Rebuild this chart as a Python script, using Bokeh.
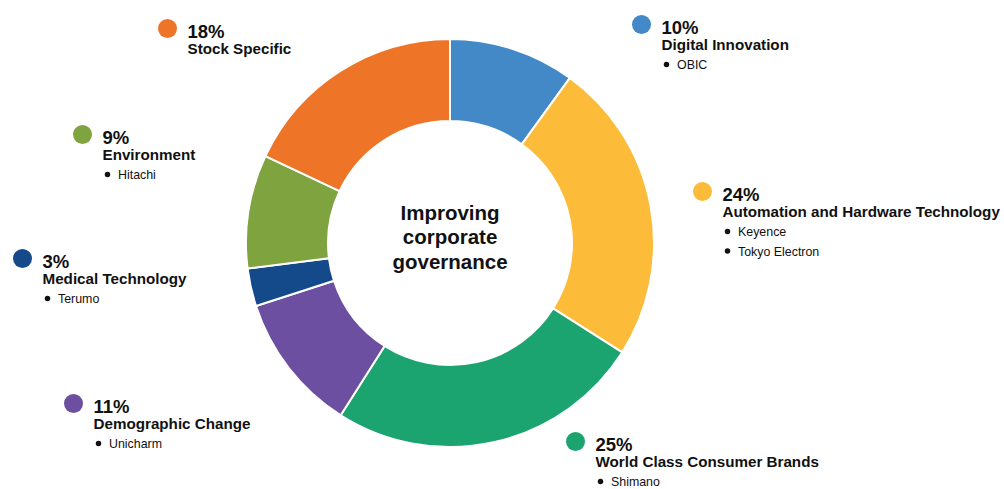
import numpy as np
from bokeh.plotting import figure
from bokeh.models import Range1d, ColumnDataSource
from bokeh.core.properties import value
from bokeh.embed import file_html
from bokeh.resources import INLINE

# ---- data ----
categories = ["Digital Innovation", "Automation and Hardware Technology",
              "World Class Consumer Brands", "Demographic Change",
              "Medical Technology", "Environment", "Stock Specific"]
shares = [10, 24, 25, 11, 3, 9, 18]
holdings = [["OBIC"], ["Keyence", "Tokyo Electron"], ["Shimano"], ["Unicharm"],
            ["Terumo"], ["Hitachi"], []]
colors = ["#4388C7", "#FDBB3A", "#1BA370", "#6C4FA1", "#144A8A", "#7FA33F", "#EE7427"]
center_title = ["Improving", "corporate", "governance"]

# ---- layout (screen px) ----
W, H = 1004, 489
TXT_SHIFT = -7  # rendering baseline correction
def X(sx): return sx
def Y(sy): return H - sy
def YT(sy): return H - (sy + TXT_SHIFT)

CX, CY = 449.5, 242.5
R_OUT, R_IN = 204, 122
dot_pos = [(641, 24), (702, 191), (575, 441), (73, 403), (22, 258), (82, 134), (167, 28)]

FONT = value("Liberation Sans")

p = figure(width=W, height=H, output_backend="svg", toolbar_location=None,
           x_range=Range1d(0, W), y_range=Range1d(0, H), min_border=0)
p.axis.visible = False
p.grid.visible = False
p.outline_line_color = None
p.background_fill_color = "white"
p.border_fill_color = "white"

vals = np.array(shares, dtype=float)
frac = vals / vals.sum()
cum = np.concatenate([[0], np.cumsum(frac)])
start = np.pi / 2 - cum[:-1] * 2 * np.pi
end = np.pi / 2 - cum[1:] * 2 * np.pi

src = ColumnDataSource(dict(x=[X(CX)] * len(shares), y=[Y(CY)] * len(shares),
                            start=start, end=end, color=colors))
p.annular_wedge(x="x", y="y", inner_radius=R_IN, outer_radius=R_OUT,
                inner_radius_units="screen", outer_radius_units="screen",
                start_angle="start", end_angle="end", direction="clock",
                fill_color="color", line_color="white", line_width=2, source=src)

# center title
for i, line in enumerate(center_title):
    p.text(x=[X(CX)], y=[YT(218.5 + 24.5 * i)], text=[line], text_font=FONT,
           text_font_style="bold", text_font_size="20.5px", text_align="center",
           text_baseline="alphabetic", text_color="#111111")

# labels
dx_ = [X(sx) for sx, sy in dot_pos]
dy_ = [Y(sy) for sx, sy in dot_pos]
p.scatter(x=dx_, y=dy_, size=19, marker="circle", fill_color=colors, line_color=None)

pct_txt = [f"{v}%" for v in shares]
p.text(x=[X(sx + 20) for sx, sy in dot_pos], y=[YT(sy + 9.5) for sx, sy in dot_pos],
       text=pct_txt, text_font=FONT, text_font_style="bold", text_font_size="18.5px",
       text_baseline="alphabetic", text_color="#111111")
p.text(x=[X(sx + 20) for sx, sy in dot_pos], y=[YT(sy + 27) for sx, sy in dot_pos],
       text=categories, text_font=FONT, text_font_style="bold", text_font_size="15.2px",
       text_baseline="alphabetic", text_color="#111111")

bx, by, tx, ty, tt = [], [], [], [], []
for (sx, sy), items in zip(dot_pos, holdings):
    for j, it in enumerate(items):
        base = sy + 47.5 + 19.5 * j
        bx.append(X(sx + 25)); by.append(Y(base - 7.5))
        tx.append(X(sx + 35.5)); ty.append(YT(base)); tt.append(it)
p.scatter(x=bx, y=by, size=5.5, marker="circle", fill_color="#111111", line_color=None)
p.text(x=tx, y=ty, text=tt, text_font=FONT, text_font_size="12.4px",
       text_baseline="alphabetic", text_color="#111111")

open("out.html", "w").write(file_html(p, INLINE))
